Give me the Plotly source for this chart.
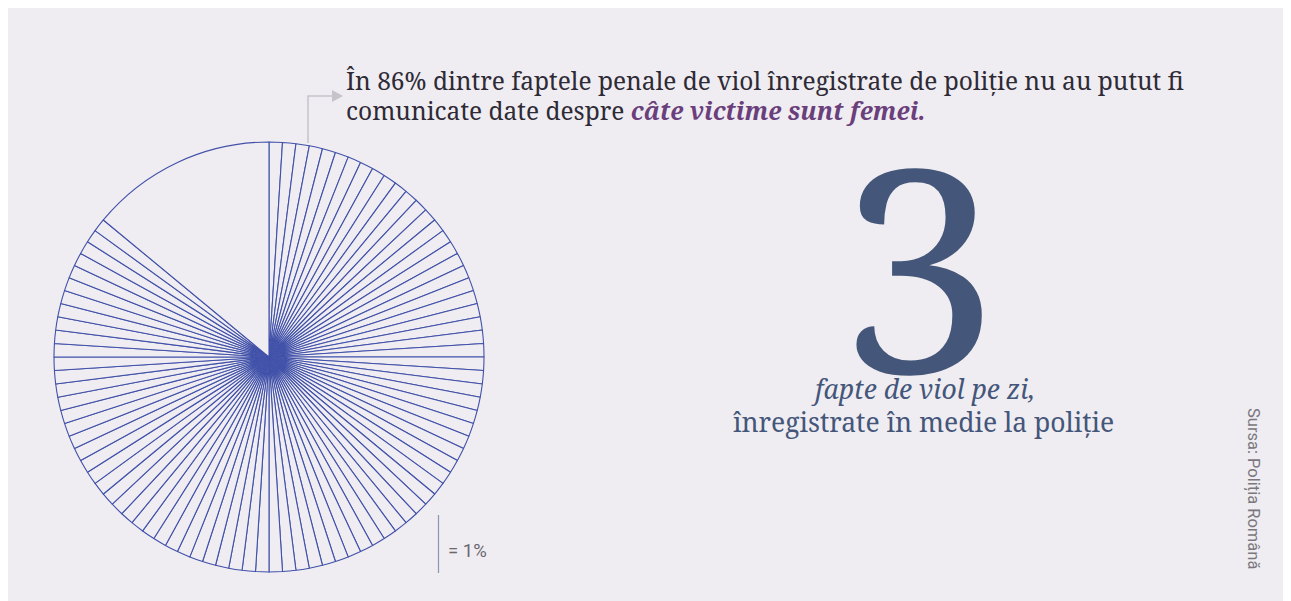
import plotly.graph_objects as go

# ---- data ----
pct_unknown = 86          # % of cases where the number of female victims could not be reported
pct_known = 14            # remaining share
unit_pct = 1              # each slice = 1%
rapes_per_day = 3

title_line1 = "În 86% dintre faptele penale de viol înregistrate de poliție nu au putut fi"
title_line2_plain = "comunicate date despre "
title_line2_em = "câte victime sunt femei."
big_sub1 = "fapte de viol pe zi,"
big_sub2 = "înregistrate în medie la poliție"
legend_text = "= 1%"
source_text = "Sursa: Poliția Română"

slice_values = [unit_pct] * (pct_unknown // unit_pct) + [pct_known]

# ---- layout helpers (page pixels -> paper coords) ----
W, H = 1300, 620
OX, OY = 8, 8
BG = "#efedf1"
BLUE = "#4151a9"
SLATE = "#44567a"


def px(x):
    return (x - OX) / W


def py(y):
    return 1 - (y - OY) / H


cx, cy, r = 269, 357, 215

fig = go.Figure(go.Pie(
    values=slice_values,
    sort=False,
    direction="clockwise",
    rotation=0,
    marker=dict(colors=[BG] * len(slice_values), line=dict(color=BLUE, width=1.1)),
    textinfo="none",
    hoverinfo="skip",
    showlegend=False,
    domain=dict(x=[px(cx - r), px(cx + r)], y=[py(cy + r), py(cy - r)]),
))

serif = "Noto Serif, DejaVu Serif, serif"


def text_ann(x, y, text, size, color, family=serif, xanchor="left", angle=0):
    return dict(x=px(x), y=py(y), xref="paper", yref="paper", xanchor=xanchor,
                yanchor="middle", showarrow=False, text=text, textangle=angle,
                font=dict(family=family, size=size, color=color))


ann = [
    text_ann(344, 81, title_line1, 24.5, "#2e2a36"),
    text_ann(344, 110, title_line2_plain +
             "<b><i><span style='color:#6a3f7c'>" + title_line2_em + "</span></i></b>",
             24.5, "#2e2a36"),
    text_ann(919, 263, str(rapes_per_day), 283, SLATE, xanchor="center"),
    text_ann(923, 389, "<i>" + big_sub1 + "</i>", 26.5, SLATE, xanchor="center"),
    text_ann(923, 422, big_sub2, 26.5, SLATE, xanchor="center"),
    text_ann(446, 551, legend_text, 18.5, "#6b6670", family="Roboto, sans-serif"),
    text_ann(1253, 488, source_text, 16.5, "#7b7780", family="Roboto, sans-serif",
             xanchor="center", angle=90),
]

GRAY = "#c6c4ca"
shapes = [
    dict(type="path", xref="paper", yref="paper",
         path=f"M {px(308)} {py(143)} L {px(308)} {py(96)} L {px(333)} {py(96)}",
         line=dict(color=GRAY, width=1.5)),
    dict(type="path", xref="paper", yref="paper",
         path=f"M {px(332)} {py(90)} L {px(343)} {py(96)} L {px(332)} {py(102)} Z",
         fillcolor=GRAY, line=dict(color=GRAY, width=0)),
    dict(type="line", xref="paper", yref="paper",
         x0=px(438.5), x1=px(438.5), y0=py(515), y1=py(573),
         line=dict(color="#8d93b5", width=1.2)),
]

fig.update_layout(
    width=W, height=H,
    margin=dict(l=0, r=0, t=0, b=0),
    paper_bgcolor=BG, plot_bgcolor=BG,
    annotations=ann, shapes=shapes,
)

fig.write_html("out.html")
